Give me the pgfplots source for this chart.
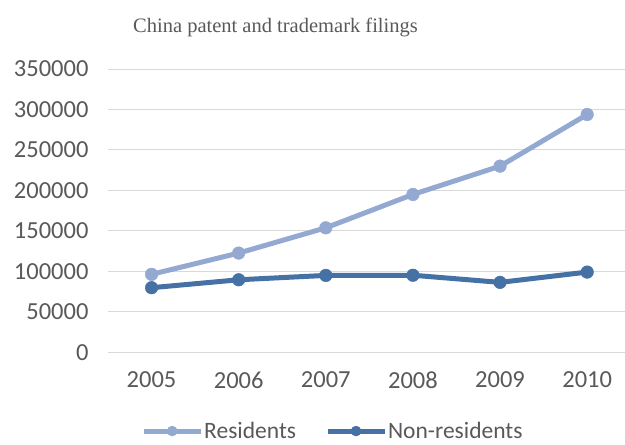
\documentclass[border=0pt]{standalone}
\usepackage{pgfplots}
\pgfplotsset{compat=1.18}
\usepackage{fontspec}
\setmainfont{Carlito}
\newfontfamily\titlefont{Liberation Serif}
\definecolor{resc}{HTML}{93A9D2}
\definecolor{nonc}{HTML}{4671A5}
\definecolor{labc}{HTML}{595959}
\definecolor{gridc}{HTML}{D9D9D9}
\begin{document}
\begin{tikzpicture}
\useasboundingbox (-108pt,-92.7pt) rectangle (517pt,352.3pt);
\begin{axis}[
  scale only axis,
  clip=false,
  width=517pt, height=283.3pt,
  xmin=-0.5, xmax=5.434,
  ymin=0, ymax=350000,
  ytick={0,50000,100000,150000,200000,250000,300000,350000},
  xtick={0,1,2,3,4,5},
  xticklabels={2005,2006,2007,2008,2009,2010},
  axis line style={draw=none},
  major tick style={draw=none},
  ymajorgrids,
  grid style={gridc, line width=1pt},
  tick label style={font=\fontsize{24.5}{30}\selectfont, color=labc},
  yticklabel style={xshift=-16pt},
  xticklabel style={yshift=-16pt},
  /pgf/number format/assume math mode=true,
  scaled y ticks=false,
  yticklabel style={/pgf/number format/fixed, /pgf/number format/1000 sep={}},
  legend columns=2,
  legend style={at={(0.434,-0.278)}, anchor=center, draw=none, fill=none,
    inner sep=0pt, nodes={inner sep=1pt},
    font=\fontsize{23.5}{28}\selectfont, text=labc,
    /tikz/every even column/.append style={column sep=28pt}},
  legend image code/.code={\draw[mark repeat=2,mark phase=2, mark size=5pt] plot coordinates {(0pt,0pt)(28.5pt,0pt)(57pt,0pt)};},
]
\addplot[resc, line width=5pt, mark=*, mark size=6.3pt, mark options={solid, line width=0.5pt, fill=resc}]
  coordinates {(0,96300) (1,122600) (2,153800) (3,195000) (4,230000) (5,293800)};
\addlegendentry{Residents}
\addplot[nonc, line width=5pt, mark=*, mark size=6.3pt, mark options={solid, line width=0.5pt, fill=nonc}]
  coordinates {(0,79800) (1,89600) (2,95000) (3,95200) (4,86400) (5,99100)};
\addlegendentry{Non-residents}
\node[anchor=base, font=\titlefont\fontsize{20.5}{24}\selectfont, text=labc] at (rel axis cs:0.324,1) [yshift=37pt] {China patent and trademark filings};
\end{axis}
\end{tikzpicture}
\end{document}
